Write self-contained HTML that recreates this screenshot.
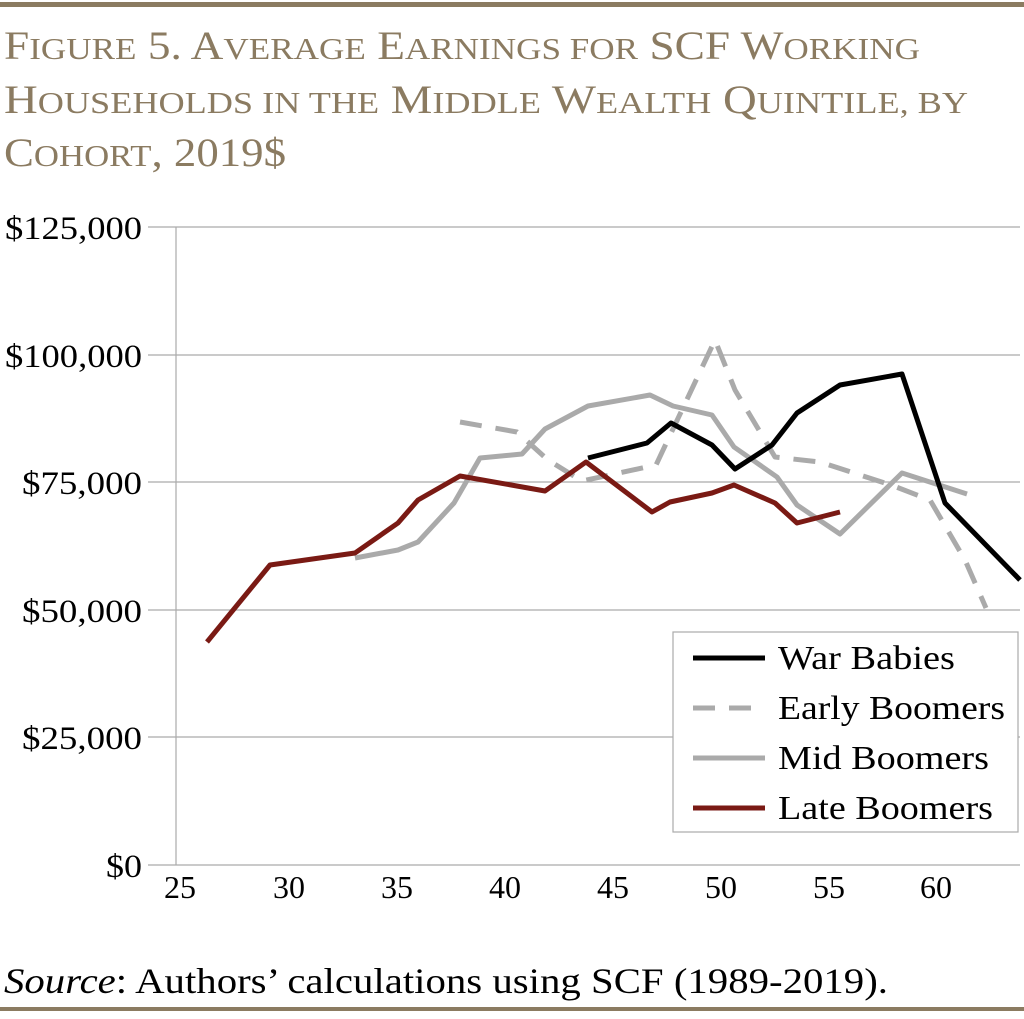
<!DOCTYPE html>
<html><head><style>
body{margin:0;background:#fff;width:1024px;height:1014px;overflow:hidden}
</style></head><body>
<svg width="1024" height="1014" xmlns="http://www.w3.org/2000/svg" font-family="Liberation Serif, serif">
<rect x="0" y="2" width="1024" height="5" fill="#8b7b61"/>
<rect x="0" y="1007" width="1024" height="4" fill="#8b7b61"/>
<g fill="#8b7b61" font-size="40">
<text x="4" y="59" textLength="916" lengthAdjust="spacingAndGlyphs">F<tspan font-size="31">IGURE</tspan> 5. A<tspan font-size="31">VERAGE</tspan> E<tspan font-size="31">ARNINGS FOR</tspan> SCF W<tspan font-size="31">ORKING</tspan></text>
<text x="4" y="113" textLength="964" lengthAdjust="spacingAndGlyphs">H<tspan font-size="31">OUSEHOLDS IN THE</tspan> M<tspan font-size="31">IDDLE</tspan> W<tspan font-size="31">EALTH</tspan> Q<tspan font-size="31">UINTILE, BY</tspan></text>
<text x="4" y="166" textLength="282" lengthAdjust="spacingAndGlyphs">C<tspan font-size="31">OHORT</tspan>, 2019$</text>
</g>
<g stroke="#aaa" stroke-width="1.2">
<line x1="148" y1="227" x2="1020" y2="227"/><line x1="148" y1="355" x2="1020" y2="355"/>
<line x1="148" y1="482" x2="1020" y2="482"/><line x1="148" y1="610" x2="1020" y2="610"/>
<line x1="148" y1="737" x2="1020" y2="737"/><line x1="148" y1="865" x2="1020" y2="865"/>
<line x1="176" y1="227" x2="176" y2="865"/>
</g>
<g font-size="33" fill="#000">
<text x="5" y="239" textLength="137" lengthAdjust="spacingAndGlyphs">$125,000</text>
<text x="5" y="367" textLength="137" lengthAdjust="spacingAndGlyphs">$100,000</text>
<text x="22" y="494" textLength="120" lengthAdjust="spacingAndGlyphs">$75,000</text>
<text x="22" y="622" textLength="120" lengthAdjust="spacingAndGlyphs">$50,000</text>
<text x="22" y="749" textLength="120" lengthAdjust="spacingAndGlyphs">$25,000</text>
<text x="106" y="877" textLength="36" lengthAdjust="spacingAndGlyphs">$0</text>
</g>
<g font-size="32" text-anchor="middle">
<text x="180" y="898">25</text><text x="289" y="898">30</text><text x="397" y="898">35</text>
<text x="505" y="898">40</text><text x="613" y="898">45</text><text x="721" y="898">50</text>
<text x="829" y="898">55</text><text x="936" y="898">60</text>
</g>
<g fill="none" stroke-width="5" stroke-linejoin="round">
<polyline stroke="#aaa" stroke-dasharray="22,14" points="460,422 517,432 548,460 582,481 619,473 656,465 715,340 735,390 775,457 820,462 891,485 930,500 965,560 986,608"/>
<polyline stroke="#aaa" points="355,558 398,550 418,542 454,503 480,458 522,454 545,429 588,406 650,395 673,406 712,415 734,447 777,477 797,505 840,534 902,473 967,494"/>
<polyline stroke="#000" points="588,458 647,443 671,423 712,445 735,469 772,445 797,413 840,385 902,374 945,503 1020,580"/>
<polyline stroke="#7a1a14" points="207,642 270,565 355,553 398,523 418,500 460,476 545,491 586,462 652,512 670,502 712,493 734,485 775,503 797,523 840,512"/>
</g>
<rect x="673" y="632" width="345" height="200" fill="#fff" stroke="#aaa" stroke-width="1.2"/>
<g stroke-width="5">
<line x1="693" y1="658" x2="765" y2="658" stroke="#000"/>
<line x1="693" y1="708" x2="765" y2="708" stroke="#aaa" stroke-dasharray="22,14"/>
<line x1="693" y1="758" x2="765" y2="758" stroke="#aaa"/>
<line x1="693" y1="808" x2="765" y2="808" stroke="#7a1a14"/>
</g>
<g font-size="34">
<text x="778" y="669" textLength="177" lengthAdjust="spacingAndGlyphs">War Babies</text>
<text x="778" y="719" textLength="227" lengthAdjust="spacingAndGlyphs">Early Boomers</text>
<text x="778" y="769" textLength="211" lengthAdjust="spacingAndGlyphs">Mid Boomers</text>
<text x="778" y="819" textLength="215" lengthAdjust="spacingAndGlyphs">Late Boomers</text>
</g>
<text x="4" y="993" font-size="36" textLength="884" lengthAdjust="spacingAndGlyphs"><tspan font-style="italic">Source</tspan>: Authors’ calculations using SCF (1989-2019).</text>
</svg>
</body></html>
